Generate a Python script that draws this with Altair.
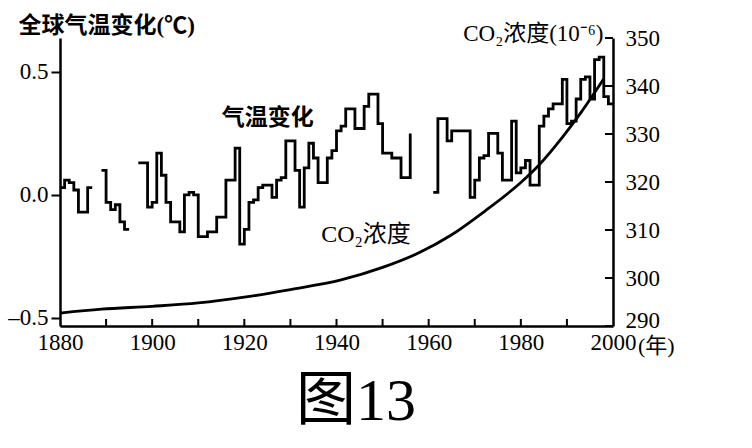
import altair as alt
import pandas as pd

# ---- data ----
# global temperature change (deg C), one value per year; None = gap in the record
temp_years = list(range(1880, 2001))
temp_values = [
    0.03, 0.06, 0.05, 0.02, -0.07, -0.07, 0.03, 0.03, None, 0.10,      # 1880-1889
    -0.03, -0.06, -0.04, -0.11, -0.14, -0.14, None, 0.13, 0.13, -0.05,  # 1890-1899
    -0.03, 0.17, 0.08, -0.03, -0.11, -0.11, -0.15, 0.00, 0.01, 0.00,    # 1900-1909
    -0.17, -0.17, -0.15, -0.15, -0.09, -0.09, 0.06, 0.06, 0.19, -0.20,  # 1910-1919
    -0.14, -0.03, -0.02, 0.03, 0.04, 0.04, -0.01, 0.06, 0.07, 0.22,     # 1920-1929
    0.22, 0.10, -0.05, 0.11, 0.21, 0.15, 0.05, 0.05, 0.15, 0.18,        # 1930-1939
    0.26, 0.28, 0.35, 0.35, 0.27, 0.27, 0.36, 0.41, 0.41, 0.29,         # 1940-1949
    0.17, 0.17, 0.15, 0.15, 0.07, 0.07, 0.25, None, None, None,         # 1950-1959
    None, 0.01, 0.31, 0.31, 0.22, 0.26, 0.26, 0.26, 0.26, -0.01,        # 1960-1969
    0.06, 0.15, 0.16, 0.25, 0.25, 0.17, 0.06, 0.06, 0.30, 0.09,         # 1970-1979
    0.11, 0.14, 0.04, 0.04, 0.28, 0.32, 0.35, 0.37, 0.37, 0.47,         # 1980-1989
    0.29, 0.30, 0.39, 0.47, 0.48, 0.39, 0.55, 0.56, 0.40, 0.37,         # 1990-1999
    0.37,                                                               # 2000
]

# CO2 concentration (10^-6)
co2_years = [1880, 1889, 1900, 1910, 1920, 1930, 1941, 1950, 1958, 1965,
             1972, 1980, 1984, 1989, 1993, 1998]
co2_values = [292.7, 293.5, 294.1, 294.8, 296.0, 297.6, 299.6, 302.2, 305.3, 309.0,
              313.8, 319.9, 323.6, 329.3, 334.4, 341.5]

x_label_years = [1880, 1900, 1920, 1940, 1960, 1980, 2000]
x_tick_years = [1890, 1900, 1910, 1920, 1930, 1940, 1950, 1960, 1970, 1980, 1990]
temp_ticks = [-0.5, 0.0, 0.5]
co2_ticks = [290, 300, 310, 320, 330, 340, 350]

temp_label = ["气温变化"]
temp_label_year = [1925.1]
temp_label_value = [0.313]
co2_label = ["CO₂浓度"]
co2_label_year = [1946.4]
co2_label_value = [-0.163]

# ---- tables ----
rows = []
seg = 0
for y, v in zip(temp_years, temp_values):
    if v is None:
        seg += 1
        continue
    rows.append({"year": y, "temp": v, "seg": seg})
temp_df = pd.DataFrame(rows)
co2_df = pd.DataFrame({"year": co2_years, "co2": co2_values})

W, H = 553, 288
XDOM = [1880, 2000]
TDOM = [-0.533, 0.638]
CDOM = [290, 350]
SERIF = "Liberation Serif, Noto Sans CJK SC"

xscale = alt.Scale(domain=XDOM, nice=False, zero=False)
tscale = alt.Scale(domain=TDOM, nice=False, zero=False)
cscale = alt.Scale(domain=CDOM, nice=False, zero=False)
x_axis = alt.Axis(values=x_label_years, format="d", ticks=False, labelFlush=False,
                  labelPadding=5, labelFont="Liberation Serif", title=None)


def xenc():
    return alt.X("year:Q", scale=xscale, axis=x_axis)


temp_line = alt.Chart(temp_df).mark_line(
    interpolate="step-after", color="black", strokeWidth=2.8
).encode(
    x=xenc(),
    y=alt.Y("temp:Q", scale=tscale,
            axis=alt.Axis(orient="left", values=temp_ticks,
                          labelExpr="replace(format(datum.value, '.1f'), '−', '–')",
                          tickSize=9, tickWidth=2, labelPadding=3, labelFlush=False,
                          labelFont="Liberation Serif",
                          title="全球气温变化(℃)", titleAngle=0, titleAlign="left",
                          titleBaseline="middle", titleX=-42, titleY=-13,
                          titleFont=SERIF, titleFontSize=23, titleFontWeight="bold",
                          titleColor="black")),
    detail="seg:N",
)

co2_line = alt.Chart(co2_df).mark_line(
    interpolate="monotone", color="black", strokeWidth=2.8
).encode(
    x=xenc(),
    y=alt.Y("co2:Q", scale=cscale,
            axis=alt.Axis(orient="right", values=co2_ticks, format="d",
                          ticks=False, labelPadding=12, labelFlush=False,
                          labelFont="Liberation Serif",
                          labelOffset={"condition": {"test": "datum.value == 290", "value": -6},
                                       "value": 0},
                          title="CO₂浓度(10⁻⁶)", titleAngle=0, titleAlign="right",
                          titleBaseline="middle", titleX=-10, titleY=-5,
                          titleFont=SERIF, titleFontSize=23, titleFontWeight="normal",
                          titleColor="black")),
)

right_ticks = alt.Chart(pd.DataFrame({"co2": co2_ticks})).mark_rule(
    color="black", strokeWidth=2
).encode(
    y=alt.Y("co2:Q", scale=cscale, axis=None),
    x=alt.value(W - 8),
    x2=alt.value(W),
)

bottom_ticks = alt.Chart(pd.DataFrame({"year": x_tick_years})).mark_rule(
    color="black", strokeWidth=2
).encode(
    x=xenc(),
    y=alt.value(H - 7),
    y2=alt.value(H),
)

lab1 = alt.Chart(pd.DataFrame({"year": temp_label_year, "temp": temp_label_value,
                               "t": temp_label})).mark_text(
    font=SERIF, fontSize=23, fontWeight="bold", color="black"
).encode(
    x=xenc(),
    y=alt.Y("temp:Q", scale=tscale, axis=None),
    text="t:N",
)

lab2 = alt.Chart(pd.DataFrame({"year": co2_label_year, "temp": co2_label_value,
                               "t": co2_label})).mark_text(
    font=SERIF, fontSize=24, color="black"
).encode(
    x=xenc(),
    y=alt.Y("temp:Q", scale=tscale, axis=None),
    text="t:N",
)

year_unit = alt.Chart(pd.DataFrame({"t": ["(年)"]})).mark_text(
    font=SERIF, fontSize=22, color="black", align="left", baseline="middle"
).encode(text="t:N", x=alt.value(578), y=alt.value(308))

fig_title = alt.Chart(pd.DataFrame({"t": ["图13"]})).mark_text(
    font=SERIF, fontSize=60, color="black", align="center", baseline="middle"
).encode(text="t:N", x=alt.value(296), y=alt.value(364))

chart = alt.layer(
    temp_line, co2_line, right_ticks, bottom_ticks, lab1, lab2, year_unit, fig_title
).resolve_scale(
    y="independent"
).properties(
    width=W, height=H,
    autosize=alt.AutoSizeParams(type="none"),
    padding={"left": 52, "top": 30, "right": 120, "bottom": 110},
    background="white",
).configure_view(
    strokeWidth=0
).configure_axis(
    grid=False,
    domainColor="black", domainWidth=2.5,
    tickColor="black",
    labelColor="black", labelFont="Liberation Serif", labelFontSize=23,
)

chart.save("out.html", embed_options={"renderer": "svg", "actions": False})
